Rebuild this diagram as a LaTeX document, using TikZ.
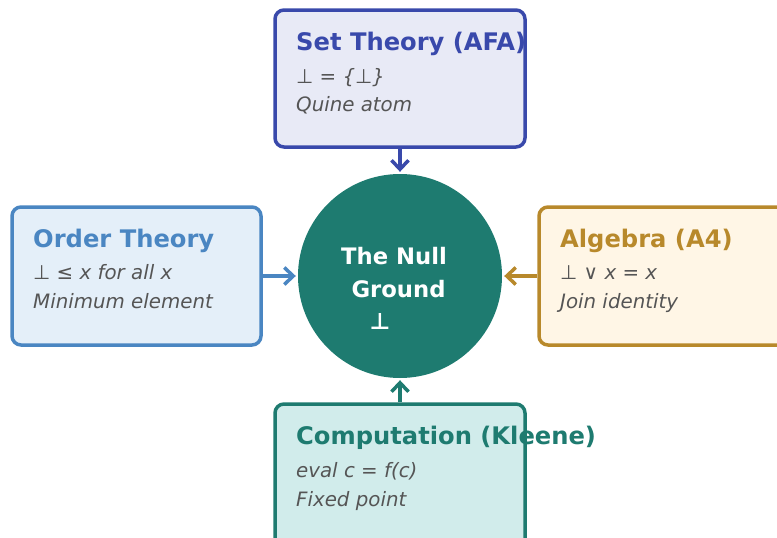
\documentclass[tikz,border=0pt]{standalone}
\usepackage{fontspec}
\setmainfont{DejaVu Sans}
\usetikzlibrary{arrows.meta}
\definecolor{cset}{HTML}{3949AB}
\definecolor{fset}{HTML}{E8EAF6}
\definecolor{cord}{HTML}{4A86C2}
\definecolor{ford}{HTML}{E4EFF9}
\definecolor{calg}{HTML}{B8892B}
\definecolor{falg}{HTML}{FFF6E6}
\definecolor{cteal}{HTML}{1E7B70}
\definecolor{fteal}{HTML}{D1ECEB}
\definecolor{bodygray}{HTML}{555555}
\tikzset{
  card/.style={draw=#1, line width=3.5pt, rounded corners=9pt},
  ttl/.style={anchor=base west, inner sep=0pt, font=\fontsize{24.2}{28}\selectfont\bfseries, text=#1},
  bodytxt/.style={anchor=base west, inner sep=0pt, font=\fontsize{19.8}{23}\selectfont\itshape, text=bodygray},
  ctr/.style={anchor=base, inner sep=0pt, font=\fontsize{22.7}{27}\selectfont\bfseries, text=white},
  link/.style={draw=#1, line width=3.5pt, shorten >=2pt, -{Straight Barb[length=9pt,width=17pt,line width=3.5pt]}}
}
\begin{document}
\begin{tikzpicture}[x=1pt,y=-1pt]
\useasboundingbox (0,0) rectangle (777,538);
% boxes
\node[card=cset, fill=fset, minimum width=250pt, minimum height=137pt, inner sep=0pt] (set) at (400,78.5) {};
\node[card=cord, fill=ford, minimum width=249pt, minimum height=138pt, inner sep=0pt] (ord) at (136.5,276) {};
\node[card=calg, fill=falg, minimum width=250pt, minimum height=138pt, inner sep=0pt] (alg) at (664,276) {};
\node[card=cteal, fill=fteal, minimum width=250pt, minimum height=150pt, inner sep=0pt] (comp) at (400,479) {};
\node[circle, fill=cteal, minimum size=204pt, inner sep=0pt] (null) at (400,276) {};
% texts
\node[ttl=cset] (setT) at (296,50) {Set Theory (AFA)};
\node[bodytxt] (setA) at (296,83) {⊥ = \{⊥\}};
\node[bodytxt] (setB) at (296,111) {Quine atom};
\node[ttl=cord] (ordT) at (33,247) {Order Theory};
\node[bodytxt] (ordA) at (33,279) {⊥ ≤ x for all x};
\node[bodytxt] (ordB) at (33,308) {Minimum element};
\node[ttl=calg] (algT) at (560,247) {Algebra (A4)};
\node[bodytxt] (algA) at (560,279) {⊥ ∨ x = x};
\node[bodytxt] (algB) at (560,308) {Join identity};
\node[ttl=cteal] (compT) at (296,444) {Computation (Kleene)};
\node[bodytxt] (compA) at (296,477) {eval c = f(c)};
\node[bodytxt] (compB) at (296,506) {Fixed point};
\node[ctr] (nullA) at (394,264) {The Null};
\node[ctr] (nullB) at (398.5,297) {Ground};
\node[ctr] (nullC) at (380,329) {⊥};
% connectors
\draw[link=cset] (set.south) -- (null.north);
\draw[link=cord] (ord.east) -- (null.west);
\draw[link=calg] (alg.west) -- (null.east);
\draw[link=cteal] (comp.north) -- (null.south);
\end{tikzpicture}
\end{document}
